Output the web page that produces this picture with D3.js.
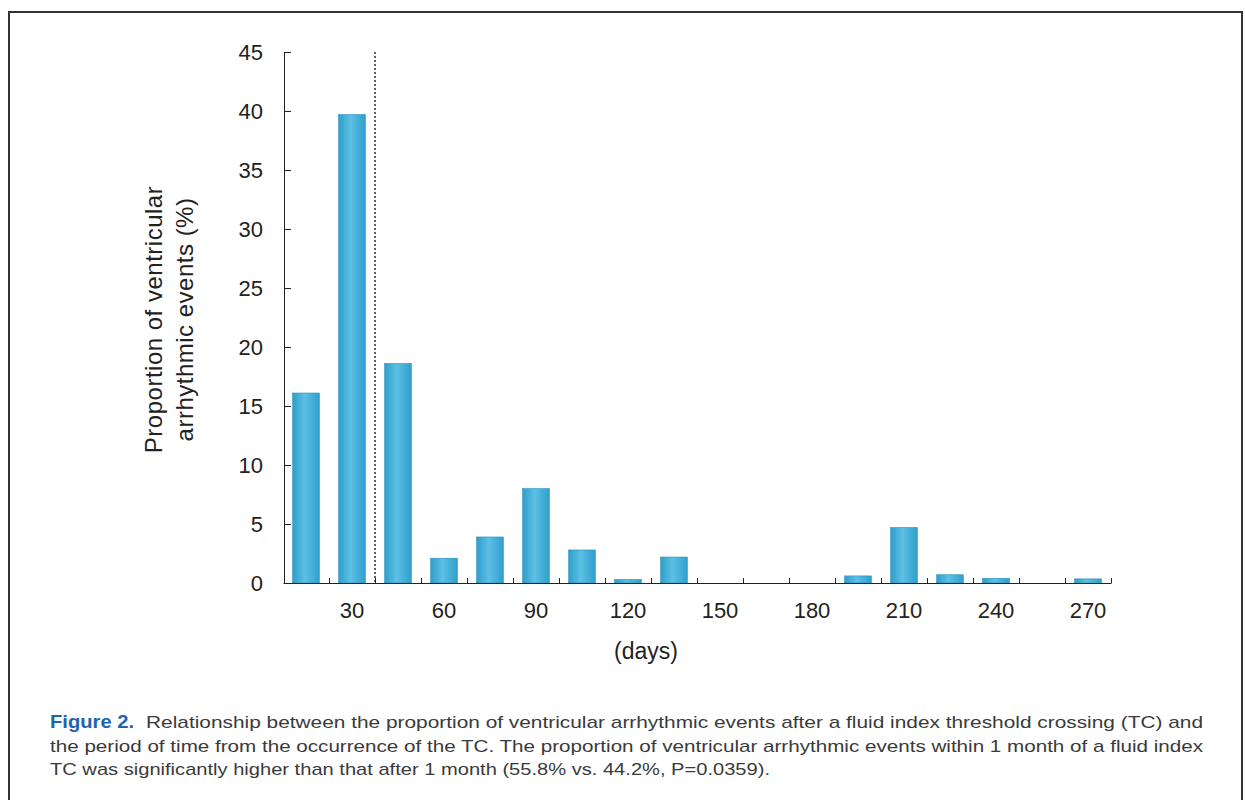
<!DOCTYPE html>
<meta charset="utf-8">
<style>
body { margin: 0; background: #fff; }
text { font-family: "Liberation Sans", Arial, sans-serif; }
.axis path, .axis line { stroke: #222; }
.axis text { fill: #222; font-size: 22px; }
</style>
<body>
<script src="https://d3js.org/d3.v7.min.js"></script>
<script>

// bins of 15 days, labelled by their end day
var binEnds = [15, 30, 45, 60, 75, 90, 105, 120, 135, 150, 165, 180, 195, 210, 225, 240, 255, 270];
var proportions = [16.1, 39.7, 18.6, 2.1, 3.9, 8.0, 2.8, 0.3, 2.2, 0, 0, 0, 0.6, 4.7, 0.7, 0.4, 0, 0.35];
var yTicks = [0, 5, 10, 15, 20, 25, 30, 35, 40, 45];
var xLabels = [30, 60, 90, 120, 150, 180, 210, 240, 270];
var cutoffDay = 30;

var captionLines = [
  "Relationship between the proportion of ventricular arrhythmic events after a fluid index threshold crossing (TC) and",
  "the period of time from the occurrence of the TC. The proportion of ventricular arrhythmic events within 1 month of a fluid index",
  "TC was significantly higher than that after 1 month (55.8% vs. 44.2%, P=0.0359)."
];

var width = 1245, height = 800;

var svg = d3.select("body").append("svg")
    .attr("width", width)
    .attr("height", height);

// bar shading
var grad = svg.append("defs").append("linearGradient")
    .attr("id", "barfill").attr("x1", "0%").attr("x2", "100%");
grad.append("stop").attr("offset", "0%").attr("stop-color", "#2f9fcc");
grad.append("stop").attr("offset", "45%").attr("stop-color", "#5cc0e4");
grad.append("stop").attr("offset", "100%").attr("stop-color", "#2f9fcc");

// frame
svg.append("rect")
    .attr("x", 9).attr("y", 12)
    .attr("width", 1233).attr("height", 800)
    .attr("fill", "none")
    .attr("stroke", "#333")
    .attr("stroke-width", 2);

var x0 = 283, x1 = 1111, yBase = 583, yTop = 52;

var xBand = d3.scaleBand()
    .domain(binEnds)
    .range([x0, x1])
    .paddingInner(0.42)
    .paddingOuter(0.21);

var xLin = d3.scaleLinear()
    .domain([0, 270])
    .range([x0, x1]);

var y = d3.scaleLinear()
    .domain([0, 45])
    .range([yBase, yTop]);

// bars
svg.selectAll(".bar")
    .data(binEnds.map(function(d, i) { return {end: d, v: proportions[i]}; }))
  .enter().append("rect")
    .attr("class", "bar")
    .attr("x", function(d) { return xBand(d.end); })
    .attr("width", xBand.bandwidth())
    .attr("y", function(d) { return y(d.v); })
    .attr("height", function(d) { return yBase - y(d.v); })
    .attr("fill", "url(#barfill)")
    .attr("stroke", "#2a8fbd")
    .attr("stroke-width", 0.6);

// dotted line at 1 month
svg.append("line")
    .attr("x1", xLin(cutoffDay)).attr("x2", xLin(cutoffDay))
    .attr("y1", y(45)).attr("y2", yBase)
    .attr("stroke", "#333")
    .attr("stroke-width", 1.5)
    .attr("stroke-dasharray", "2,2");

// x axis: ticks at bin boundaries
svg.append("g")
    .attr("class", "axis")
    .attr("transform", "translate(0," + yBase + ")")
    .call(d3.axisBottom(xLin)
        .tickValues(binEnds)
        .tickSizeInner(-5)
        .tickSizeOuter(0)
        .tickFormat(""));

// x labels under every second bar
svg.append("g")
    .attr("class", "axis")
    .attr("transform", "translate(0," + yBase + ")")
    .call(d3.axisBottom(xBand)
        .tickValues(xLabels)
        .tickSize(0)
        .tickPadding(19))
    .call(function(g) { g.select(".domain").remove(); });

// y axis
svg.append("g")
    .attr("class", "axis")
    .attr("transform", "translate(" + (x0 + 1) + ",0)")
    .call(d3.axisLeft(y)
        .tickValues(yTicks)
        .tickSizeInner(-7)
        .tickSizeOuter(0)
        .tickPadding(21));

// y title
var yt = svg.append("text")
    .attr("transform", "translate(170," + ((yBase + yTop) / 2 + 2) + ") rotate(-90)")
    .attr("text-anchor", "middle")
    .style("font-size", "24px")
    .style("letter-spacing", "0.5px")
    .attr("fill", "#222");
yt.append("tspan").attr("x", 0).attr("y", -8).text("Proportion of ventricular");
yt.append("tspan").attr("x", 0).attr("y", 23).text("arrhythmic events (%)");

// x title
svg.append("text")
    .attr("x", 646).attr("y", 659)
    .attr("text-anchor", "middle")
    .style("font-size", "23px")
    .attr("fill", "#222")
    .text("(days)");

// caption
svg.append("text")
    .attr("x", 50).attr("y", 728)
    .attr("textLength", 84)
    .attr("lengthAdjust", "spacingAndGlyphs")
    .style("font-size", "18px")
    .style("font-weight", "bold")
    .attr("fill", "#1e64ad")
    .text("Figure 2.");

svg.selectAll(".cap")
    .data(captionLines)
  .enter().append("text")
    .attr("class", "cap")
    .attr("x", function(d, i) { return i === 0 ? 146 : 50; })
    .attr("y", function(d, i) { return 728 + i * 23.5; })
    .attr("textLength", function(d, i) { return [1057, 1153, 720][i]; })
    .attr("lengthAdjust", "spacingAndGlyphs")
    .style("font-size", "17px")
    .attr("fill", "#3a3a3a")
    .text(function(d) { return d; });

</script>
</body>
